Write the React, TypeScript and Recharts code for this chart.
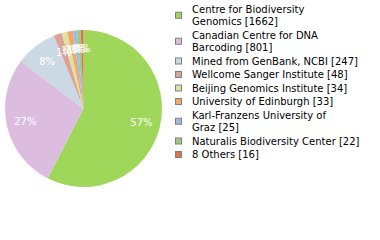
import React from "react";
import { PieChart, Pie, Cell, Legend } from "recharts";

const categories = [
  "Centre for Biodiversity Genomics",
  "Canadian Centre for DNA Barcoding",
  "Mined from GenBank, NCBI",
  "Wellcome Sanger Institute",
  "Beijing Genomics Institute",
  "University of Edinburgh",
  "Karl-Franzens University of Graz",
  "Naturalis Biodiversity Center",
  "8 Others",
];
const counts = [1662, 801, 247, 48, 34, 33, 25, 22, 16];
const legendLines = [
  ["Centre for Biodiversity", "Genomics [1662]"],
  ["Canadian Centre for DNA", "Barcoding [801]"],
  ["Mined from GenBank, NCBI [247]"],
  ["Wellcome Sanger Institute [48]"],
  ["Beijing Genomics Institute [34]"],
  ["University of Edinburgh [33]"],
  ["Karl-Franzens University of", "Graz [25]"],
  ["Naturalis Biodiversity Center [22]"],
  ["8 Others [16]"],
];
const colors = [
  "#9fd75a",
  "#dcbde0",
  "#cbd9e5",
  "#dca297",
  "#dfe29f",
  "#f0a868",
  "#9bbde0",
  "#9ccc78",
  "#e07050",
];

const data = categories.map((name, i) => ({ name, value: counts[i] }));
const FONT = "'DejaVu Sans', sans-serif";
const RAD = Math.PI / 180;

const renderLabel = (props: any) => {
  const { cx, cy, midAngle, outerRadius, percent } = props;
  const r = outerRadius * 0.76;
  const x = cx + r * Math.cos(-midAngle * RAD);
  const y = cy + r * Math.sin(-midAngle * RAD);
  return (
    <text
      x={x}
      y={y}
      fill="#ffffff"
      fontSize={10}
      fontFamily={FONT}
      textAnchor="middle"
      dominantBaseline="central"
    >
      {Math.floor(percent * 100) + "%"}
    </text>
  );
};

const LegendContent = () => {
  const LH = 12.5;
  const GAP = 13.5;
  let y = 12.5;
  const items: React.ReactNode[] = [];
  legendLines.forEach((lines, i) => {
    const first = y;
    const sqCenter = first - 3.5 + ((lines.length - 1) * LH) / 2;
    items.push(
      <g key={i}>
        <rect
          x={7.5}
          y={sqCenter - 3}
          width={6}
          height={6}
          fill={colors[i]}
          stroke="#808080"
          strokeWidth={1}
        />
        {lines.map((t, j) => (
          <text
            key={j}
            x={24}
            y={first + j * LH}
            fontSize={10}
            fontFamily={FONT}
            fill="#000000"
          >
            {t}
          </text>
        ))}
      </g>
    );
    y = first + (lines.length - 1) * LH + GAP;
  });
  return (
    <svg width={212} height={180} style={{ display: "block" }}>
      {items}
    </svg>
  );
};

export default function App() {
  return (
    <div style={{ position: "absolute", left: 0, top: 0, background: "#fff" }}>
      <PieChart
        width={380}
        height={240}
        margin={{ top: 0, right: 0, bottom: 0, left: 0 }}
      >
        <Pie
          data={data}
          dataKey="value"
          nameKey="name"
          cx={83.5}
          cy={108.5}
          outerRadius={78.5}
          startAngle={90}
          endAngle={-270}
          stroke="none"
          labelLine={false}
          label={renderLabel}
          isAnimationActive={false}
        >
          {data.map((d, i) => (
            <Cell key={d.name} fill={colors[i]} />
          ))}
        </Pie>
        <Legend
          content={<LegendContent />}
          wrapperStyle={{ position: "absolute", left: 168, top: 0, width: 212 }}
        />
      </PieChart>
    </div>
  );
}
